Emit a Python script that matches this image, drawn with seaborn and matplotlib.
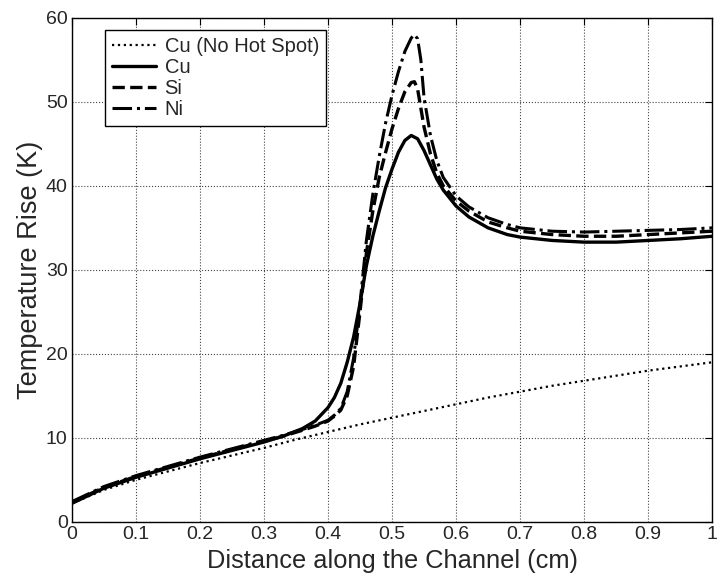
import matplotlib
matplotlib.use("Agg")
import matplotlib.pyplot as plt
import seaborn as sns
import pandas as pd

sns.set_style("white")
plt.rcParams['font.family'] = ['Liberation Sans', 'DejaVu Sans']

x_nohot = [0, 0.05, 0.1, 0.15, 0.2, 0.25, 0.3, 0.35, 0.4, 0.45, 0.5, 0.55, 0.6, 0.65, 0.7, 0.75, 0.8, 0.85, 0.9, 0.95, 1.0]
y_nohot = [2.2, 3.8, 5.0, 6.0, 7.0, 7.9, 8.8, 9.8, 10.7, 11.6, 12.4, 13.2, 14.0, 14.8, 15.5, 16.2, 16.8, 17.4, 18.0, 18.5, 19.0]

x_cu = [0, 0.05, 0.1, 0.15, 0.2, 0.25, 0.3, 0.33, 0.36, 0.38, 0.40, 0.41, 0.42, 0.43, 0.44, 0.45, 0.46, 0.47, 0.48, 0.49, 0.50, 0.51, 0.52, 0.53, 0.54, 0.55, 0.56, 0.57, 0.58, 0.60, 0.62, 0.65, 0.68, 0.70, 0.75, 0.80, 0.85, 0.90, 0.95, 1.0]
y_cu = [2.2, 4.0, 5.3, 6.4, 7.5, 8.5, 9.5, 10.2, 11.1, 12.0, 13.6, 14.8, 16.5, 19.0, 22.0, 26.0, 30.5, 34.0, 37.0, 39.8, 42.0, 44.0, 45.4, 46.0, 45.6, 44.2, 42.5, 40.8, 39.5, 37.6, 36.3, 35.0, 34.2, 33.9, 33.5, 33.3, 33.3, 33.5, 33.7, 34.0]

x_si = [0, 0.05, 0.1, 0.15, 0.2, 0.25, 0.3, 0.33, 0.36, 0.38, 0.40, 0.41, 0.42, 0.43, 0.44, 0.45, 0.46, 0.47, 0.48, 0.49, 0.50, 0.51, 0.52, 0.53, 0.535, 0.54, 0.55, 0.56, 0.57, 0.58, 0.60, 0.62, 0.65, 0.68, 0.70, 0.75, 0.80, 0.85, 0.90, 0.95, 1.0]
y_si = [2.3, 4.1, 5.4, 6.5, 7.6, 8.6, 9.6, 10.2, 10.9, 11.4, 12.0, 12.6, 13.3, 15.0, 18.5, 25.0, 32.0, 37.0, 41.0, 44.0, 46.8, 49.2, 51.2, 52.3, 52.4, 51.5, 47.0, 43.8, 41.5, 40.0, 38.2, 37.0, 35.7, 35.0, 34.6, 34.2, 34.0, 34.0, 34.2, 34.4, 34.6]

x_ni = [0, 0.05, 0.1, 0.15, 0.2, 0.25, 0.3, 0.33, 0.36, 0.38, 0.40, 0.41, 0.42, 0.43, 0.44, 0.45, 0.46, 0.47, 0.48, 0.49, 0.50, 0.51, 0.52, 0.53, 0.535, 0.54, 0.545, 0.55, 0.56, 0.57, 0.58, 0.60, 0.62, 0.65, 0.68, 0.70, 0.75, 0.80, 0.85, 0.90, 0.95, 1.0]
y_ni = [2.4, 4.2, 5.5, 6.6, 7.7, 8.7, 9.7, 10.3, 11.0, 11.5, 12.1, 12.7, 13.5, 15.5, 19.5, 26.0, 33.5, 39.0, 43.5, 47.5, 50.8, 53.6, 56.0, 57.6, 58.0, 57.5, 55.0, 50.5, 46.0, 43.0, 41.0, 38.8, 37.5, 36.2, 35.4, 35.0, 34.6, 34.5, 34.6, 34.7, 34.8, 35.0]

labels = ["Cu (No Hot Spot)", "Cu", "Si", "Ni"]
xtick_vals = [0, 0.1, 0.2, 0.3, 0.4, 0.5, 0.6, 0.7, 0.8, 0.9, 1.0]
xtick_labels = ["0", "0.1", "0.2", "0.3", "0.4", "0.5", "0.6", "0.7", "0.8", "0.9", "1"]
ytick_vals = [0, 10, 20, 30, 40, 50, 60]

fig = plt.figure(figsize=(7.18, 5.76), dpi=100)
ax = fig.add_axes([0.1, 0.094, 0.892, 0.875])

series = [(x_nohot, y_nohot, labels[0], ':', 1.6),
          (x_cu, y_cu, labels[1], '-', 2.4),
          (x_si, y_si, labels[2], '--', 2.4),
          (x_ni, y_ni, labels[3], '-.', 2.2)]
for xs, ys, lab, ls, lw in series:
    df = pd.DataFrame({"x": xs, "y": ys})
    sns.lineplot(data=df, x="x", y="y", ax=ax, color="black", linestyle=ls,
                 linewidth=lw, label=lab, estimator=None, sort=True)

ax.set_xlim(0, 1)
ax.set_ylim(0, 60)
ax.set_xticks(xtick_vals)
ax.set_xticklabels(xtick_labels)
ax.set_yticks(ytick_vals)
ax.tick_params(direction='in', top=True, right=True, labelsize=14, length=5, color='black', pad=3)
ax.grid(True, linestyle=':', color='#444444', linewidth=0.8)
for s in ax.spines.values():
    s.set_color('black')
    s.set_linewidth(1.0)
ax.set_xlabel("Distance along the Channel (cm)", fontsize=18.3, labelpad=4)
ax.set_ylabel("Temperature Rise (K)", fontsize=19.5, labelpad=2)

leg = ax.legend(loc='upper left', bbox_to_anchor=(0.052, 0.976), fontsize=14.5,
                frameon=True, fancybox=False, edgecolor='black', framealpha=1,
                handlelength=2.2, borderpad=0.35, labelspacing=0.1, handletextpad=0.4,
                borderaxespad=0)
leg.get_frame().set_linewidth(1.0)

fig.savefig("out.png", dpi=100)
